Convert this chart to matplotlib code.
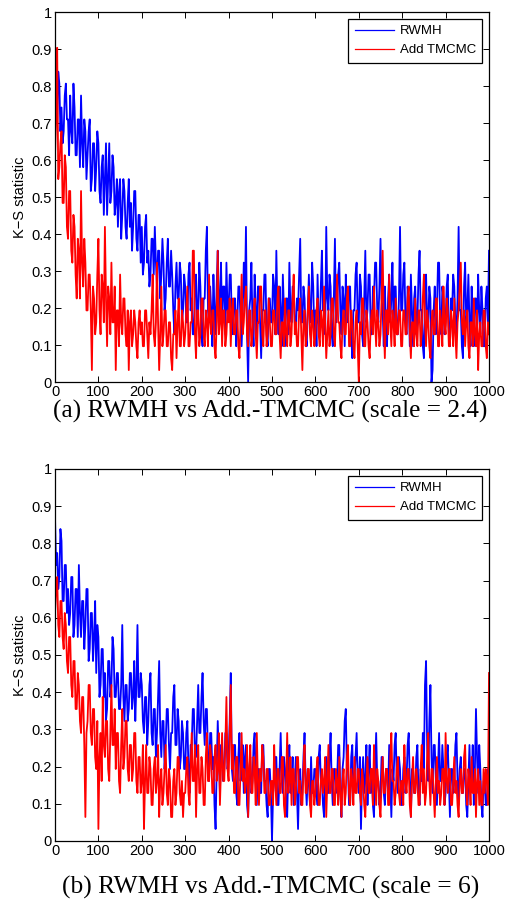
import matplotlib

matplotlib.use("Agg")
import matplotlib.pyplot as plt
import numpy as np

# K-S statistic values, stored as counts k out of 31,
# one sample every 2.5 iterations from 0 to 1000.
N_LEVELS = 31
iters = np.linspace(0, 1000, 401)

rwmh_a = [
    27, 23, 22, 26, 25, 21, 23, 20, 21, 24, 25, 22, 22, 19, 24, 21, 20, 25, 23, 19,
    19, 22, 22, 18, 24, 20, 18, 22, 21, 17, 19, 21, 22, 16, 17, 20, 20, 16, 18, 21,
    20, 16, 15, 18, 19, 14, 17, 20, 14, 17, 20, 15, 16, 19, 18, 14, 15, 17, 13, 16,
    17, 12, 14, 17, 16, 13, 12, 15, 17, 13, 15, 11, 13, 16, 16, 12, 11, 14, 14, 10,
    13, 9, 10, 13, 14, 10, 11, 8, 9, 12, 12, 9, 13, 10, 8, 11, 11, 7, 9, 12,
    10, 6, 7, 10, 12, 8, 8, 11, 9, 6, 4, 8, 10, 7, 7, 10, 9, 5, 6, 9,
    8, 5, 5, 9, 10, 6, 7, 4, 4, 8, 9, 5, 6, 10, 8, 4, 3, 7, 7, 11,
    13, 6, 5, 8, 6, 3, 9, 6, 4, 8, 11, 5, 7, 10, 5, 8, 8, 4, 10, 6,
    6, 9, 9, 5, 4, 7, 7, 3, 5, 8, 8, 5, 3, 6, 10, 7, 13, 4, 0, 6,
    7, 10, 5, 3, 9, 6, 4, 8, 8, 5, 2, 6, 6, 9, 9, 4, 3, 7, 7, 5,
    5, 9, 8, 4, 11, 6, 4, 8, 6, 3, 9, 6, 3, 7, 7, 4, 10, 6, 5, 8,
    8, 5, 4, 7, 6, 9, 12, 5, 5, 8, 7, 4, 3, 6, 9, 5, 6, 10, 8, 4,
    6, 3, 9, 5, 4, 8, 11, 6, 7, 4, 13, 7, 6, 9, 8, 4, 3, 7, 12, 5,
    6, 9, 10, 6, 4, 8, 7, 3, 9, 6, 5, 8, 8, 4, 2, 6, 6, 9, 10, 5,
    5, 9, 8, 4, 3, 7, 11, 5, 6, 9, 9, 4, 4, 8, 7, 10, 10, 6, 5, 8,
    12, 7, 6, 3, 8, 5, 3, 7, 9, 5, 7, 10, 5, 8, 8, 4, 4, 7, 13, 6,
    6, 9, 10, 5, 4, 8, 7, 3, 9, 6, 3, 7, 8, 4, 5, 9, 11, 6, 6, 3,
    2, 7, 9, 5, 5, 8, 7, 0, 1, 6, 8, 4, 6, 10, 10, 5, 4, 8, 7, 4,
    5, 8, 9, 4, 3, 7, 6, 9, 8, 5, 4, 7, 13, 6, 6, 3, 2, 8, 10, 5,
    6, 9, 5, 3, 8, 5, 3, 7, 7, 4, 9, 6, 4, 8, 6, 3, 3, 7, 8, 5,
    11,
]
tmcmc_a = [
    19, 22, 28, 17, 18, 20, 21, 15, 15, 19, 18, 13, 12, 16, 16, 11, 10, 14, 13, 9,
    7, 12, 11, 7, 16, 10, 8, 12, 10, 6, 6, 9, 9, 6, 1, 8, 7, 4, 5, 9,
    12, 6, 4, 9, 8, 5, 13, 7, 3, 8, 7, 4, 10, 5, 5, 8, 1, 6, 6, 3,
    9, 5, 4, 7, 7, 4, 3, 6, 1, 5, 6, 3, 4, 6, 5, 3, 2, 5, 6, 4,
    5, 3, 3, 6, 6, 4, 2, 5, 4, 6, 9, 4, 3, 5, 10, 5, 1, 4, 8, 3,
    4, 6, 6, 3, 3, 5, 5, 2, 1, 4, 4, 6, 2, 5, 7, 3, 3, 6, 5, 3,
    4, 6, 8, 3, 3, 5, 5, 11, 11, 4, 2, 6, 6, 3, 4, 7, 7, 4, 3, 6,
    5, 3, 9, 5, 4, 6, 6, 3, 2, 5, 11, 4, 5, 7, 3, 6, 6, 3, 4, 6,
    5, 7, 3, 6, 7, 4, 4, 6, 6, 3, 2, 5, 9, 4, 5, 7, 8, 4, 3, 6,
    6, 3, 4, 6, 7, 4, 2, 5, 5, 8, 8, 4, 3, 6, 6, 3, 4, 7, 5, 3,
    3, 6, 6, 4, 4, 7, 8, 4, 2, 5, 5, 3, 7, 4, 3, 6, 6, 3, 4, 7,
    9, 4, 5, 3, 3, 6, 7, 4, 1, 5, 6, 3, 4, 6, 8, 4, 3, 6, 5, 3,
    4, 6, 7, 4, 3, 6, 5, 3, 8, 5, 2, 4, 6, 3, 4, 7, 7, 4, 3, 6,
    9, 5, 5, 3, 2, 5, 6, 4, 4, 7, 8, 3, 3, 6, 5, 3, 2, 5, 6, 3,
    0, 5, 4, 7, 7, 3, 3, 6, 5, 3, 2, 5, 6, 4, 8, 5, 3, 6, 5, 3,
    4, 7, 11, 5, 2, 6, 6, 4, 9, 5, 3, 6, 5, 3, 7, 4, 4, 6, 6, 3,
    3, 6, 6, 4, 4, 7, 8, 4, 2, 5, 5, 3, 7, 4, 3, 6, 6, 3, 4, 7,
    9, 5, 3, 6, 5, 3, 2, 5, 6, 4, 4, 7, 7, 3, 3, 6, 5, 3, 8, 5,
    4, 7, 6, 3, 3, 6, 5, 3, 7, 4, 2, 5, 6, 8, 10, 5, 4, 6, 3, 5,
    6, 3, 2, 5, 5, 3, 7, 4, 3, 6, 1, 4, 5, 3, 3, 6, 6, 3, 2, 5,
    4,
]
rwmh_b = [
    27, 23, 24, 21, 22, 26, 25, 20, 20, 23, 23, 19, 21, 18, 19, 22, 22, 17, 18, 21,
    21, 17, 23, 19, 17, 20, 20, 16, 18, 21, 21, 15, 16, 19, 19, 15, 17, 20, 14, 18,
    17, 12, 13, 16, 16, 12, 14, 10, 11, 15, 15, 12, 13, 17, 16, 12, 12, 14, 14, 11,
    11, 13, 18, 12, 10, 13, 13, 10, 11, 14, 14, 11, 12, 15, 10, 13, 18, 12, 12, 14,
    13, 10, 9, 12, 12, 8, 10, 13, 14, 9, 8, 11, 11, 7, 9, 12, 15, 9, 7, 10,
    10, 6, 8, 11, 11, 8, 6, 9, 9, 12, 13, 8, 8, 11, 10, 6, 7, 10, 9, 6,
    6, 9, 10, 6, 4, 8, 8, 11, 11, 7, 7, 10, 13, 9, 9, 12, 14, 10, 8, 11,
    11, 7, 5, 9, 9, 6, 7, 3, 1, 6, 10, 7, 4, 8, 8, 5, 6, 9, 9, 6,
    7, 10, 14, 6, 5, 8, 8, 4, 3, 7, 9, 5, 6, 8, 4, 7, 8, 3, 2, 6,
    7, 4, 5, 8, 9, 5, 3, 6, 6, 4, 4, 8, 8, 5, 5, 3, 2, 6, 6, 4,
    0, 4, 5, 7, 7, 3, 3, 6, 9, 5, 4, 7, 6, 3, 2, 6, 8, 4, 5, 7,
    3, 5, 7, 4, 1, 5, 6, 3, 4, 7, 9, 5, 3, 6, 5, 3, 7, 4, 4, 6,
    6, 4, 3, 7, 8, 5, 5, 3, 2, 6, 7, 4, 4, 7, 9, 5, 3, 6, 6, 4,
    5, 8, 8, 4, 2, 6, 7, 10, 11, 6, 6, 3, 3, 7, 8, 4, 5, 7, 9, 5,
    4, 7, 1, 5, 7, 4, 5, 8, 3, 6, 8, 4, 6, 3, 2, 6, 9, 5, 5, 3,
    4, 7, 7, 4, 3, 6, 6, 4, 8, 5, 2, 6, 5, 8, 9, 5, 4, 7, 6, 3,
    3, 6, 7, 4, 5, 8, 9, 5, 2, 6, 6, 4, 4, 7, 8, 4, 3, 6, 5, 9,
    6, 13, 15, 8, 5, 10, 13, 7, 4, 8, 8, 5, 3, 6, 9, 5, 5, 8, 6, 3,
    4, 7, 8, 5, 2, 6, 6, 4, 5, 8, 9, 5, 3, 6, 7, 4, 4, 6, 6, 3,
    2, 5, 8, 4, 5, 8, 3, 6, 11, 7, 4, 8, 6, 3, 2, 5, 5, 3, 3, 6,
    6,
]
tmcmc_b = [
    19, 21, 22, 18, 17, 20, 20, 17, 16, 19, 18, 15, 14, 17, 17, 13, 12, 15, 15, 11,
    11, 14, 13, 10, 9, 12, 12, 8, 2, 9, 10, 13, 13, 9, 8, 11, 11, 7, 6, 10,
    1, 7, 9, 5, 12, 8, 7, 10, 10, 6, 5, 9, 13, 8, 8, 11, 6, 9, 9, 5,
    4, 8, 11, 6, 7, 10, 10, 6, 5, 8, 8, 5, 6, 9, 9, 5, 4, 7, 7, 4,
    5, 8, 1, 5, 8, 4, 4, 7, 6, 3, 3, 6, 7, 4, 5, 8, 2, 5, 6, 3,
    4, 6, 8, 4, 3, 6, 5, 2, 2, 5, 6, 3, 4, 7, 7, 4, 3, 5, 2, 4,
    4, 6, 7, 4, 3, 6, 9, 5, 5, 8, 2, 6, 8, 4, 4, 7, 6, 3, 3, 7,
    9, 5, 5, 8, 7, 4, 4, 7, 8, 5, 6, 9, 3, 6, 9, 5, 5, 8, 12, 6,
    5, 9, 13, 6, 8, 4, 4, 7, 7, 3, 3, 6, 9, 5, 6, 4, 5, 8, 2, 6,
    8, 4, 4, 7, 6, 3, 9, 5, 3, 6, 5, 8, 7, 4, 4, 6, 6, 3, 3, 5,
    5, 3, 8, 5, 3, 6, 6, 4, 4, 7, 7, 3, 2, 5, 9, 4, 5, 7, 3, 6,
    6, 3, 4, 7, 7, 4, 5, 3, 3, 6, 8, 4, 4, 6, 6, 3, 2, 5, 5, 3,
    4, 6, 7, 3, 3, 5, 6, 4, 5, 7, 2, 5, 8, 4, 4, 6, 6, 3, 3, 6,
    5, 3, 7, 4, 2, 5, 6, 3, 4, 7, 8, 4, 3, 6, 5, 3, 7, 4, 4, 6,
    6, 4, 3, 6, 5, 3, 2, 5, 7, 4, 4, 6, 6, 3, 8, 5, 3, 6, 5, 3,
    2, 5, 7, 4, 4, 6, 6, 3, 3, 7, 9, 5, 5, 3, 4, 6, 7, 4, 3, 5,
    5, 3, 8, 5, 4, 6, 6, 3, 2, 5, 7, 4, 4, 6, 5, 3, 3, 6, 8, 4,
    6, 3, 4, 7, 9, 5, 3, 6, 6, 4, 2, 5, 7, 4, 5, 3, 4, 6, 6, 3,
    9, 5, 4, 6, 6, 3, 3, 5, 7, 4, 5, 3, 2, 5, 6, 4, 4, 7, 8, 4,
    3, 6, 5, 3, 7, 4, 4, 6, 2, 5, 6, 3, 5, 3, 3, 6, 4, 6, 5, 3,
    14,
]

captions = [
    "(a) RWMH vs Add.-TMCMC (scale = 2.4)",
    "(b) RWMH vs Add.-TMCMC (scale = 6)",
]
series = [(rwmh_a, tmcmc_a), (rwmh_b, tmcmc_b)]

plt.rcParams["font.family"] = ["Liberation Sans", "DejaVu Sans"]

fig = plt.figure(figsize=(5.05, 9.02), dpi=100)
rects = [
    [55 / 505, 1 - 382 / 902, 434 / 505, 370 / 902],
    [55 / 505, 1 - 841 / 902, 434 / 505, 372 / 902],
]
cap_y = [1 - 411 / 902, 1 - 887 / 902]

for rect, (blue, red), cap, cy in zip(rects, series, captions, cap_y):
    ax = fig.add_axes(rect)
    ax.plot(iters, np.array(blue) / N_LEVELS, color="blue", lw=1.3, label="RWMH")
    ax.plot(iters, np.array(red) / N_LEVELS, color="red", lw=1.3, label="Add TMCMC")
    ax.set_xlim(0, 1000)
    ax.set_ylim(0, 1)
    ax.set_xticks(np.arange(0, 1001, 100))
    ax.set_yticks(np.arange(0, 1.01, 0.1))
    ax.set_yticklabels(["0"] + [f"{v:.1f}" for v in np.arange(0.1, 0.95, 0.1)] + ["1"])
    ax.tick_params(direction="in", length=4, width=0.7, top=True, right=True,
                   labelsize=10.5, pad=2.5)
    for sp in ax.spines.values():
        sp.set_linewidth(0.9)
    ax.set_ylabel("K\u2212S statistic", fontsize=10.5, labelpad=3)
    leg = ax.legend(loc="upper right", fontsize=9.5, handlelength=3.0,
                    borderaxespad=0.5, fancybox=False, framealpha=1,
                    borderpad=0.5, labelspacing=0.5, handletextpad=0.4)
    for h in leg.get_lines():
        h.set_linewidth(0.9)
    leg.get_frame().set_edgecolor("black")
    leg.get_frame().set_linewidth(0.9)
    fig.text(0.535, cy, cap, ha="center", va="center", fontsize=18.3,
             family="Liberation Serif")

fig.savefig("out.png", dpi=100)
